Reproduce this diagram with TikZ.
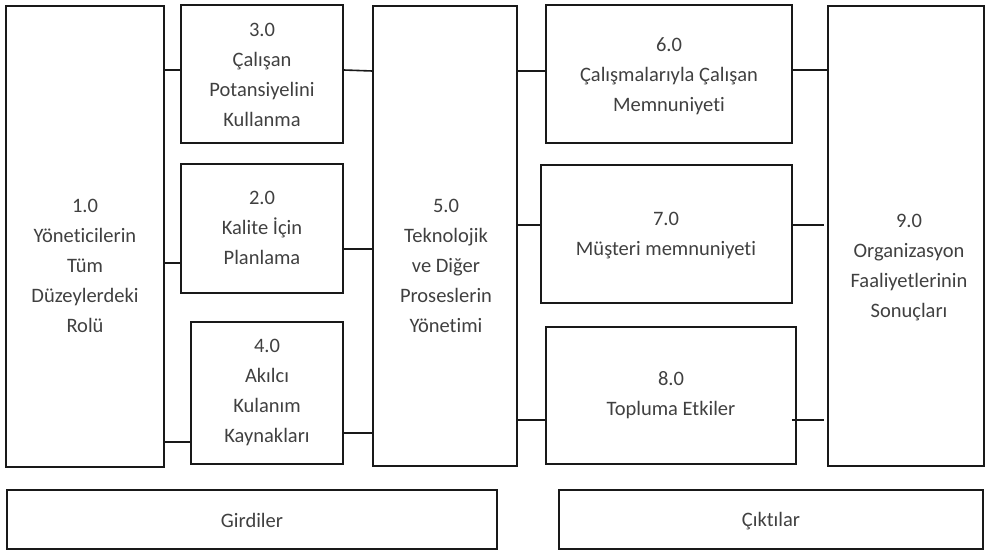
\documentclass[tikz,border=0pt]{standalone}
\usepackage{fontspec}
\setmainfont{Carlito}[Ligatures=NoCommon]
\begin{document}
\begin{tikzpicture}[x=1pt,y=-1pt,
  box/.style={draw=black!90, line width=1.6pt, rectangle, inner sep=0pt},
  txt/.style={align=center, inner sep=0pt, text=black!75, font=\fontsize{20.5}{30}\selectfont},
  conn/.style={draw=black!90, line width=1.6pt}]
\useasboundingbox (0,0) rectangle (989,551);
% boxes
\node[box, minimum width=158pt, minimum height=461pt] (b1) at (85,236.5) {};
\node[box, minimum width=162pt, minimum height=138pt] (b3) at (262,74) {};
\node[box, minimum width=162pt, minimum height=129pt] (b2) at (262,228.5) {};
\node[box, minimum width=152pt, minimum height=142pt] (b4) at (267,393) {};
\node[box, minimum width=144pt, minimum height=460pt] (b5) at (445,236) {};
\node[box, minimum width=246pt, minimum height=138pt] (b6) at (669,74) {};
\node[box, minimum width=251pt, minimum height=138pt] (b7) at (666.5,234) {};
\node[box, minimum width=250pt, minimum height=137pt] (b8) at (671,395.5) {};
\node[box, minimum width=156pt, minimum height=460pt] (b9) at (906,236) {};
\node[box, minimum width=490pt, minimum height=59pt] (gi) at (252,519.5) {};
\node[box, minimum width=424pt, minimum height=59pt] (ci) at (771,519.5) {};
% texts
\node[txt] (t1) at (85,266) {1.0\\Yöneticilerin\\Tüm\\Düzeylerdeki\\Rolü};
\node[txt] (t3) at (262,75) {3.0\\Çalışan\\Potansiyelini\\Kullanma};
\node[txt] (t2) at (262,228) {2.0\\Kalite İçin\\Planlama};
\node[txt] (t4) at (267,392) {4.0\\Akılcı\\Kulanım\\Kaynakları};
\node[txt] (t5) at (446,266) {5.0\\Teknolojik\\ ve Diğer\\Proseslerin\\Yönetimi};
\node[txt] (t6) at (669,76) {6.0\\Çalışmalarıyla Çalışan\\Memnuniyeti};
\node[txt] (t7) at (666,236) {7.0\\Müşteri memnuniyeti};
\node[txt] (t8) at (671,395) {8.0\\Topluma Etkiler};
\node[txt] (t9) at (909,268) {9.0\\Organizasyon\\Faaliyetlerinin\\Sonuçları};
\node[txt] (tg) at (252,520) {Girdiler};
\node[txt] (tc) at (771,521.5) {Çıktılar};
% connectors
\draw[conn] (b1.east |- 0,70) -- (b3.west |- 0,70);
\draw[conn] (b1.east |- 0,263) -- (b2.west |- 0,263);
\draw[conn] (b1.east |- 0,442) -- (b4.west |- 0,442);
\draw[conn] (b3.east |- 0,70) -- (b5.west |- 0,71);
\draw[conn] (b2.east |- 0,249) -- (b5.west |- 0,249);
\draw[conn] (b4.east |- 0,433) -- (b5.west |- 0,433);
\draw[conn] (b5.east |- 0,71) -- (b6.west |- 0,71);
\draw[conn] (b5.east |- 0,225) -- (b7.west |- 0,225);
\draw[conn] (b5.east |- 0,420) -- (b8.west |- 0,420);
\draw[conn] (b6.east |- 0,70) -- (b9.west |- 0,70);
\draw[conn, shorten >=3pt] (b7.east |- 0,225) -- (b9.west |- 0,225);
\draw[conn, shorten <=-5pt, shorten >=3pt] (b8.east |- 0,420) -- (b9.west |- 0,420);
\end{tikzpicture}
\end{document}
